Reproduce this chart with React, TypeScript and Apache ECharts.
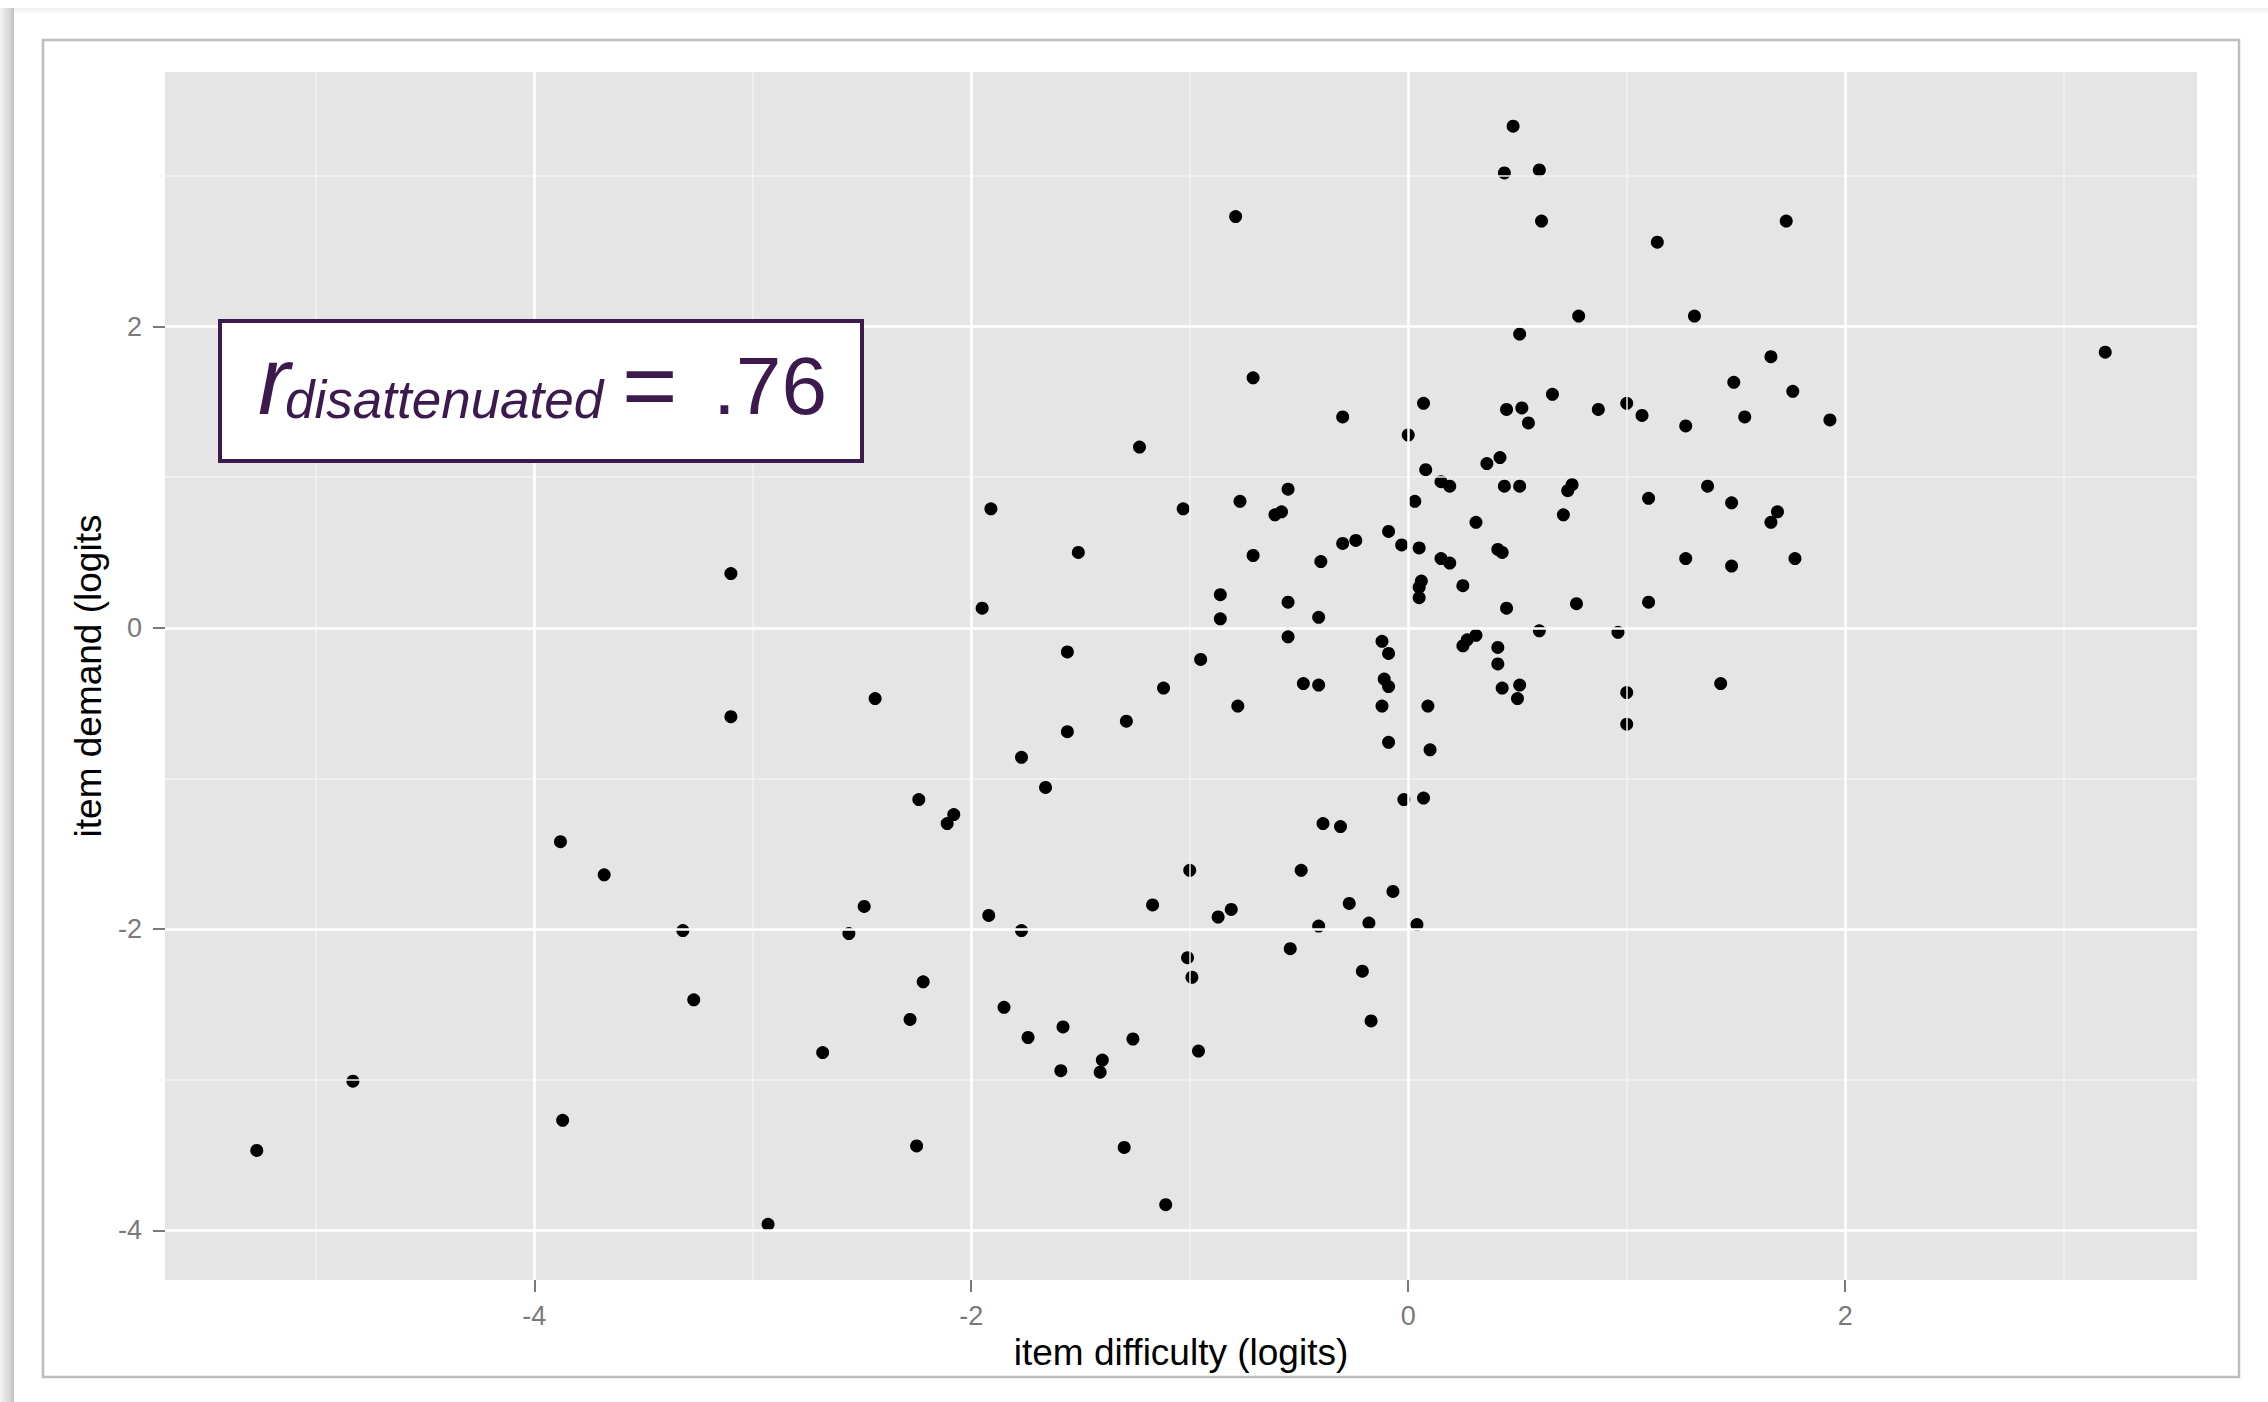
import React, { useEffect, useRef } from "react";
import * as echarts from "echarts";

// item difficulty (x, logits) and item demand (y, logits), paired by index
const itemDifficulty = [
  0.48, 0.44, 0.60, -0.79, 0.61, 1.14, 0.78, 1.31, 0.51, -0.71,
  0.66, 0.07, 0.45, 0.52, 0.87, 1.00, 1.07, 1.27, -0.30, 0.55,
  0.00, 0.36, 0.42, 0.08, 0.15, 0.19, 0.44, 0.51, 0.75, 0.73,
  1.10, -1.03, -0.77, -0.55, -0.61, -0.58, 0.03, 0.31, 0.71, 1.27,
  -0.09, -0.30, -0.24, -0.03, 0.05, 0.41, 0.43, -0.71, -0.40, 0.15,
  0.19, 0.06, 0.05, 0.05, 0.25, -0.86, -0.86, -0.55, -0.41, 0.45,
  0.77, 1.10, 0.60, 0.96, -0.55, -0.12, 0.25, 0.27, 0.31, 0.41,
  -0.09, 0.41, 0.43, 0.51, 0.50, 1.00, 1.00, -0.95, -0.48, -0.41,
  -0.78, -0.11, -0.09, -0.12, 0.09, -0.09, 0.10, -0.02, 0.07, -0.39,
  -0.31, -1.00, -0.49, -0.07, -0.27, -0.87, -0.81, -0.41, -0.18, 0.04,
  -0.54, -1.01, -0.99, -0.21, -0.17, -0.96,
  1.73, 1.66, 1.49, 1.76, 1.54, 1.93, 1.37, 1.48, 1.69, 1.66,
  1.48, 1.77, 3.19, 1.43,
  -1.23, -1.91, -1.51, -3.10, -1.95, -1.56, -1.12, -2.44, -3.10, -1.29,
  -1.56, -1.77, -1.66, -2.24, -2.08, -2.11,
  -2.49, -3.32, -2.56, -1.92, -1.77, -1.17, -2.22, -3.27, -2.28, -1.85,
  -1.58, -1.74, -1.26, -1.40, -1.59, -1.41, -2.68, -1.11, -1.30, -2.25,
  -2.93,
  -3.88, -3.68, -4.83, -5.27, -3.87,
];

const itemDemand = [
  3.33, 3.02, 3.04, 2.73, 2.70, 2.56, 2.07, 2.07, 1.95, 1.66,
  1.55, 1.49, 1.45, 1.46, 1.45, 1.49, 1.41, 1.34, 1.40, 1.36,
  1.28, 1.09, 1.13, 1.05, 0.97, 0.94, 0.94, 0.94, 0.95, 0.91,
  0.86, 0.79, 0.84, 0.92, 0.75, 0.77, 0.84, 0.70, 0.75, 0.46,
  0.64, 0.56, 0.58, 0.55, 0.53, 0.52, 0.50, 0.48, 0.44, 0.46,
  0.43, 0.31, 0.27, 0.20, 0.28, 0.22, 0.06, 0.17, 0.07, 0.13,
  0.16, 0.17, -0.02, -0.03, -0.06, -0.09, -0.12, -0.08, -0.05, -0.13,
  -0.17, -0.24, -0.40, -0.38, -0.47, -0.43, -0.64, -0.21, -0.37, -0.38,
  -0.52, -0.34, -0.39, -0.52, -0.52, -0.76, -0.81, -1.14, -1.13, -1.30,
  -1.32, -1.61, -1.61, -1.75, -1.83, -1.92, -1.87, -1.98, -1.96, -1.97,
  -2.13, -2.19, -2.32, -2.28, -2.61, -2.81,
  2.70, 1.80, 1.63, 1.57, 1.40, 1.38, 0.94, 0.83, 0.77, 0.70,
  0.41, 0.46, 1.83, -0.37,
  1.20, 0.79, 0.50, 0.36, 0.13, -0.16, -0.40, -0.47, -0.59, -0.62,
  -0.69, -0.86, -1.06, -1.14, -1.24, -1.30,
  -1.85, -2.01, -2.03, -1.91, -2.01, -1.84, -2.35, -2.47, -2.60, -2.52,
  -2.65, -2.72, -2.73, -2.87, -2.94, -2.95, -2.82, -3.83, -3.45, -3.44,
  -3.96,
  -1.42, -1.64, -3.01, -3.47, -3.27,
];

const xTickValues = [-4, -2, 0, 2];
const yTickValues = [-4, -2, 0, 2];
const xMinorValues = [-5, -3, -1, 1, 3];
const yMinorValues = [-3, -1, 1, 3];
const xRange = [-5.69, 3.61];
const yRange = [-4.33, 3.69];
const xTitle = "item difficulty (logits)";
const yTitle = "item demand (logits";
const rLabel = "r";
const rSubscript = "disattenuated";
const rEquals = "=";
const rValue = ".76";

export default function App() {
  const ref = useRef<HTMLDivElement>(null);

  useEffect(() => {
    if (!ref.current) return;
    const chart = echarts.init(ref.current, null, { renderer: "svg" });
    const FONT = '"Liberation Sans", Arial, Helvetica, sans-serif';
    const PURPLE = "#3C1A4E";
    const TICK_GREY = "#7A7A7A";

    const gridLines = [
      ...xMinorValues.map((v) => ({ xAxis: v, lineStyle: { color: "#F2F2F2", width: 1.5, type: "solid" } })),
      ...yMinorValues.map((v) => ({ yAxis: v, lineStyle: { color: "#F2F2F2", width: 1.5, type: "solid" } })),
      ...xTickValues.map((v) => ({ xAxis: v, lineStyle: { color: "#FFFFFF", width: 2.5, type: "solid" } })),
      ...yTickValues.map((v) => ({ yAxis: v, lineStyle: { color: "#FFFFFF", width: 2.5, type: "solid" } })),
    ];

    const option: any = {
      animation: false,
      backgroundColor: "#FFFFFF",
      grid: {
        left: 165,
        top: 72,
        right: 71,
        bottom: 122,
        show: true,
        backgroundColor: "#E5E5E5",
        borderWidth: 0,
        containLabel: false,
        outerBoundsMode: "none",
      },
      xAxis: {
        type: "value",
        min: xRange[0],
        max: xRange[1],
        axisLine: { show: false, onZero: false },
        splitLine: { show: false },
        minorSplitLine: { show: false },
        axisTick: {
          show: true,
          customValues: xTickValues,
          length: 12,
          lineStyle: { color: TICK_GREY, width: 2 },
        },
        axisLabel: {
          customValues: xTickValues,
          margin: 22,
          color: TICK_GREY,
          fontSize: 27,
          fontFamily: FONT,
        },
        name: xTitle,
        nameLocation: "middle",
        nameGap: 46,
        nameTextStyle: { color: "#000000", fontSize: 37, fontFamily: FONT },
      },
      yAxis: {
        type: "value",
        min: yRange[0],
        max: yRange[1],
        axisLine: { show: false, onZero: false },
        splitLine: { show: false },
        minorSplitLine: { show: false },
        axisTick: {
          show: true,
          customValues: yTickValues,
          length: 12,
          lineStyle: { color: TICK_GREY, width: 2 },
        },
        axisLabel: {
          customValues: yTickValues,
          margin: 23,
          color: TICK_GREY,
          fontSize: 27,
          fontFamily: FONT,
        },
        name: yTitle,
        nameLocation: "middle",
        nameGap: 56,
        nameRotate: 90,
        nameTextStyle: { color: "#000000", fontSize: 37, fontFamily: FONT },
      },
      series: [
        {
          type: "line",
          data: [],
          z: 1,
          silent: true,
          markLine: {
            silent: true,
            symbol: ["none", "none"],
            label: { show: false },
            emphasis: { disabled: true },
            animation: false,
            data: gridLines,
          },
        },
        {
          type: "scatter",
          z: 3,
          symbol: "circle",
          symbolSize: 13,
          itemStyle: { color: "#000000", opacity: 1 },
          silent: true,
          data: itemDifficulty.map((x, i) => [x, itemDemand[i]]),
        },
      ],
      graphic: [
        {
          type: "rect",
          z: -5,
          silent: true,
          shape: { x: 0, y: 8, width: 14, height: 1394 },
          style: {
            fill: new echarts.graphic.LinearGradient(0, 0, 1, 0, [
              { offset: 0, color: "#F4F4F4" },
              { offset: 0.7, color: "#D6D6D6" },
              { offset: 1, color: "#BDBDBD" },
            ]),
          },
        },
        {
          type: "rect",
          z: -5,
          silent: true,
          shape: { x: 14, y: 8, width: 2254, height: 7 },
          style: {
            fill: new echarts.graphic.LinearGradient(0, 0, 0, 1, [
              { offset: 0, color: "#EFEFEF" },
              { offset: 1, color: "#FFFFFF" },
            ]),
          },
        },
        {
          type: "rect",
          z: -5,
          silent: true,
          shape: { x: 43, y: 40, width: 2196, height: 1337 },
          style: { fill: "none", stroke: "#BDBDBD", lineWidth: 2.5 },
        },
        {
          type: "group",
          z: 100,
          silent: true,
          children: [
            {
              type: "rect",
              z: 100,
              shape: { x: 220, y: 321, width: 642, height: 140 },
              style: { fill: "#FFFFFF", stroke: PURPLE, lineWidth: 4 },
            },
            {
              type: "text",
              z: 101,
              x: 258,
              y: 380,
              style: {
                text: rLabel,
                fill: PURPLE,
                font: `italic 96px ${FONT}`,
                verticalAlign: "middle",
                align: "left",
              },
            },
            {
              type: "text",
              z: 101,
              x: 285,
              y: 399,
              style: {
                text: rSubscript,
                fill: PURPLE,
                font: `italic 53px ${FONT}`,
                verticalAlign: "middle",
                align: "left",
              },
            },
            {
              type: "text",
              z: 101,
              x: 622,
              y: 385,
              style: {
                text: rEquals,
                fill: PURPLE,
                font: `95px ${FONT}`,
                verticalAlign: "middle",
                align: "left",
              },
            },
            {
              type: "text",
              z: 101,
              x: 713,
              y: 385,
              style: {
                text: rValue,
                fill: PURPLE,
                font: `82px ${FONT}`,
                verticalAlign: "middle",
                align: "left",
              },
            },
          ],
        },
      ],
    };

    chart.setOption(option);
    return () => {
      chart.dispose();
    };
  }, []);

  return (
    <div
      ref={ref}
      style={{ position: "fixed", left: 0, top: 0, width: 2268, height: 1402, background: "#FFFFFF" }}
    />
  );
}
